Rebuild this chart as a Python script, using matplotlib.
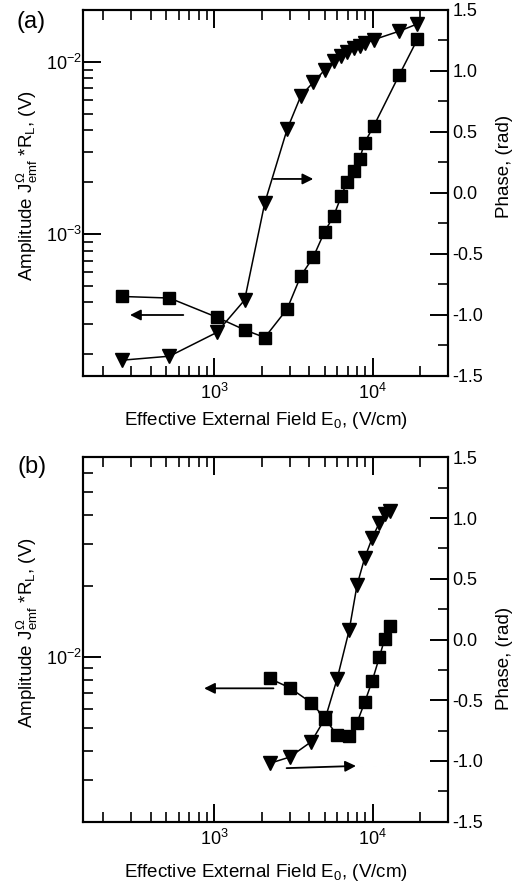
import matplotlib
matplotlib.use("Agg")
import matplotlib.pyplot as plt
from matplotlib.ticker import LogLocator, MultipleLocator, NullFormatter, FormatStrFormatter

plt.rcParams['font.family'] = ['Liberation Sans', 'DejaVu Sans']
plt.rcParams['mathtext.fontset'] = 'custom'
plt.rcParams['mathtext.rm'] = 'Liberation Sans'
plt.rcParams['mathtext.it'] = 'Liberation Sans:italic'
plt.rcParams['mathtext.bf'] = 'Liberation Sans:bold'
plt.rcParams['axes.unicode_minus'] = False

# panel (a) data
field_a = [262, 524, 1042, 1560, 2090, 2890, 3530, 4220, 4980, 5680,
           6350, 6900, 7600, 8300, 8900, 10200, 14700, 19150]
amp_a = [4.33e-4, 4.24e-4, 3.28e-4, 2.77e-4, 2.50e-4, 3.66e-4, 5.71e-4, 7.31e-4, 1.03e-3, 1.27e-3,
         1.66e-3, 2.01e-3, 2.31e-3, 2.74e-3, 3.39e-3, 4.26e-3, 8.37e-3, 1.35e-2]
phase_a = [-1.373, -1.340, -1.145, -0.879, -0.082, 0.521, 0.796, 0.906, 1.007, 1.084,
           1.125, 1.158, 1.186, 1.208, 1.227, 1.257, 1.326, 1.386]

# panel (b) data
field_b = [2240, 3000, 4110, 5040, 5980, 7120, 7980, 8910, 9950, 11050, 11890, 12860]
amp_b = [8.09e-3, 7.39e-3, 6.38e-3, 5.45e-3, 4.64e-3, 4.60e-3, 5.26e-3, 6.41e-3, 7.91e-3,
         1.0e-2, 1.185e-2, 1.355e-2]
phase_b = [-1.02, -0.968, -0.841, -0.645, -0.322, 0.078, 0.449, 0.671, 0.837, 0.963, 1.032, 1.059]

xlim = (150, 30000)
xlabel = 'Effective External Field E$_0$, (V/cm)'
ylabel_l = 'Amplitude J$^{\\Omega}_{\\mathrm{emf}}$ *R$_\\mathrm{L}$, (V)'
ylabel_r = 'Phase, (rad)'

W, H = 531, 883
fig = plt.figure(figsize=(W / 100, H / 100), dpi=100)


def style(ax, ax2):
    for a in (ax, ax2):
        for s in a.spines.values():
            s.set_linewidth(1.5)
    ax.set_xscale('log')
    ax.set_yscale('log')
    ax.set_xlim(*xlim)
    ax.xaxis.set_major_locator(LogLocator(base=10))
    ax.xaxis.set_minor_locator(LogLocator(base=10, subs=range(2, 10)))
    ax.xaxis.set_minor_formatter(NullFormatter())
    ax.yaxis.set_minor_locator(LogLocator(base=10, subs=range(2, 10)))
    ax.yaxis.set_minor_formatter(NullFormatter())
    ax.tick_params(axis='both', which='major', direction='in', length=13, width=1.4,
                   labelsize=13, pad=3)
    ax.tick_params(axis='both', which='minor', direction='in', length=7, width=1.2)
    ax.tick_params(axis='x', which='both', top=True, bottom=True)
    ax.tick_params(axis='x', which='major', pad=5)
    ax.tick_params(axis='y', which='both', right=False)
    ax.tick_params(axis='y', which='major', pad=1)
    ax2.set_ylim(-1.5, 1.5)
    ax2.yaxis.set_major_locator(MultipleLocator(0.5))
    ax2.yaxis.set_minor_locator(MultipleLocator(0.25))
    ax2.yaxis.set_major_formatter(FormatStrFormatter('%.1f'))
    ax2.tick_params(axis='y', which='major', direction='in', length=13, width=1.4,
                    labelsize=13, pad=3)
    ax2.tick_params(axis='y', which='minor', direction='in', length=7, width=1.2)
    ax.set_xlabel(xlabel, fontsize=13.5)
    ax.set_ylabel(ylabel_l, fontsize=13.5)
    ax2.set_ylabel(ylabel_r, fontsize=13.5, rotation=90)


def draw(ax, ax2, field, amp, phase):
    ax.plot(field, amp, '-', color='black', lw=1.1, marker='s', ms=8.5,
            mfc='black', mec='black')
    ax2.plot(field, phase, '-', color='black', lw=1.1, marker='v', ms=9.5,
             mfc='black', mec='black')


def arrow(ax, x0, y0, x1, y1):
    ax.annotate('', xy=(x1, y1), xycoords='axes fraction', xytext=(x0, y0),
                textcoords='axes fraction',
                arrowprops=dict(arrowstyle='-|>', color='black', lw=1.3,
                                mutation_scale=16, shrinkA=0, shrinkB=0))


# panel (a)
ax_a = fig.add_axes([83.3 / W, 1 - 375.7 / H, 365 / W, 365.7 / H])
ax_a2 = ax_a.twinx()
style(ax_a, ax_a2)
ax_a.set_ylim(1.5e-4, 2.0e-2)
draw(ax_a, ax_a2, field_a, amp_a, phase_a)
arrow(ax_a2, 0.274, 0.166, 0.128, 0.166)
arrow(ax_a2, 0.521, 0.538, 0.630, 0.538)
ax_a.xaxis.set_label_coords(0.5, -0.095)
ax_a.yaxis.set_label_coords(-0.118, 0.519)
ax_a2.yaxis.set_label_coords(1.13, 0.571)
fig.text(31 / W, 1 - 22 / H, '(a)', fontsize=17, ha='center', va='center')

# panel (b)
ax_b = fig.add_axes([83.3 / W, 1 - 821.7 / H, 365 / W, 364.4 / H])
ax_b2 = ax_b.twinx()
style(ax_b, ax_b2)
ax_b.set_ylim(2.0e-3, 7.0e-2)
draw(ax_b, ax_b2, field_b, amp_b, phase_b)
arrow(ax_b2, 0.521, 0.366, 0.331, 0.366)
arrow(ax_b2, 0.557, 0.147, 0.747, 0.153)
ax_b.xaxis.set_label_coords(0.5, -0.11)
ax_b.yaxis.set_label_coords(-0.118, 0.52)
ax_b2.yaxis.set_label_coords(1.13, 0.449)
fig.text(32 / W, 1 - 467 / H, '(b)', fontsize=17, ha='center', va='center')

fig.savefig('out.png', dpi=100)
